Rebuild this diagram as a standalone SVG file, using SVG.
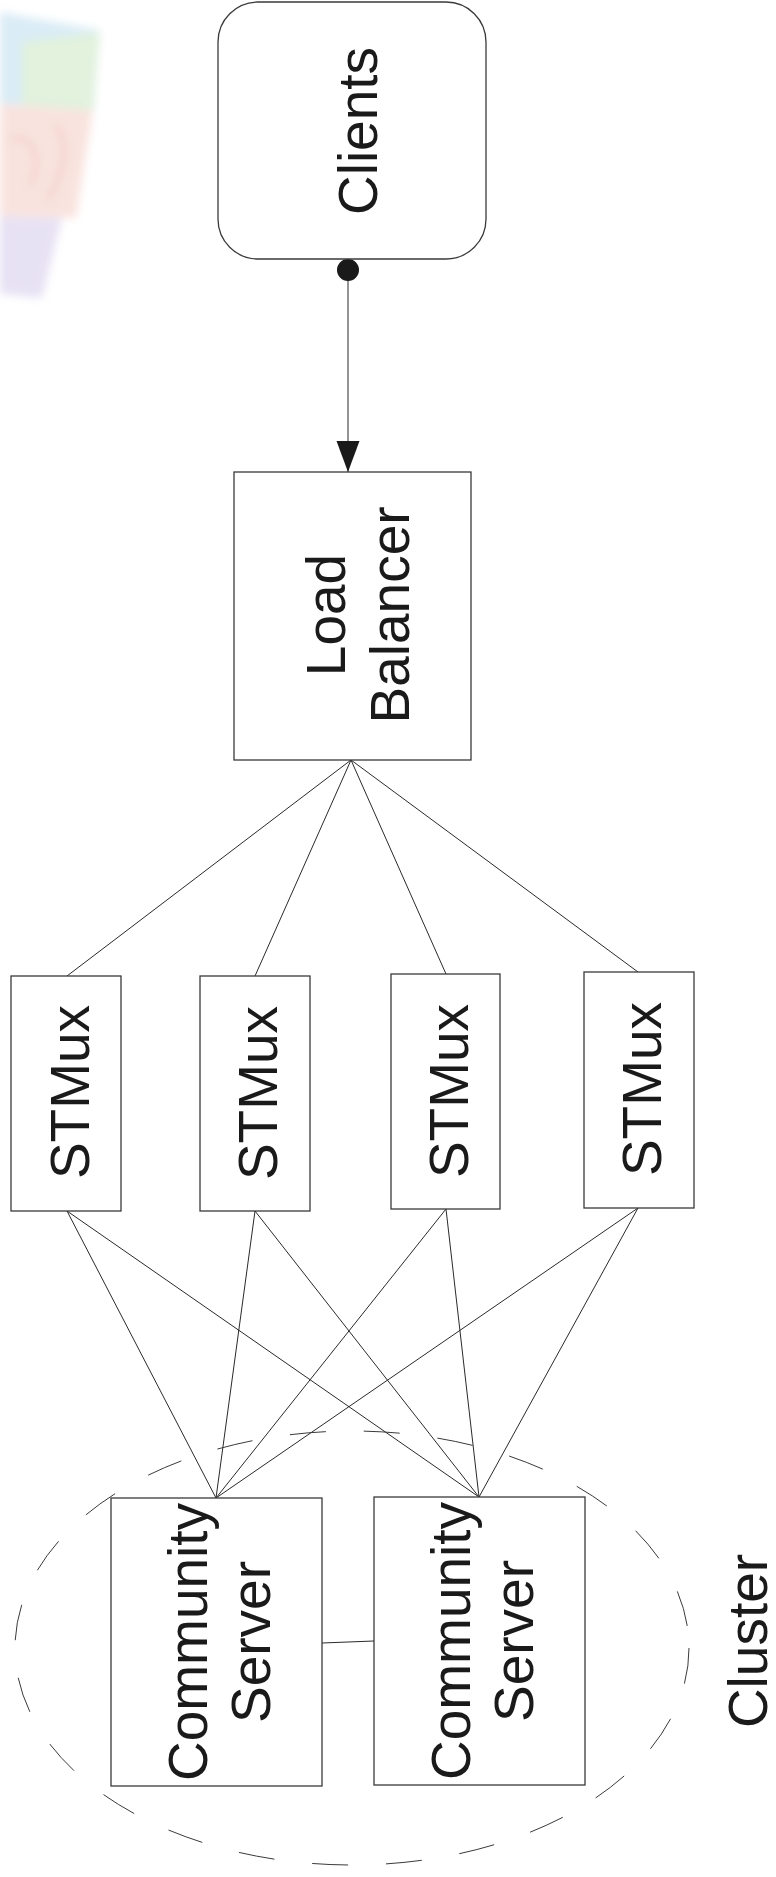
<svg xmlns="http://www.w3.org/2000/svg" width="776" height="1877" viewBox="0 0 776 1877">
<style>
.box{fill:#fff;stroke:#3a3a3a;stroke-width:1.3}
.lbl{font-family:"Liberation Sans",Arial,sans-serif;font-size:55px;fill:#1a1a1a;text-anchor:middle}
.con{stroke:#2a2a2a;stroke-width:1;fill:none}
</style>
<defs>
<marker id="dot" markerUnits="userSpaceOnUse" markerWidth="24" markerHeight="24" refX="12" refY="12" orient="auto"><circle cx="12" cy="12" r="11" fill="#1a1a1a"/></marker>
<marker id="arrow" markerUnits="userSpaceOnUse" markerWidth="32" markerHeight="24" refX="31" refY="11.5" orient="auto"><path d="M0,0 L31,11.5 L0,23 Z" fill="#1a1a1a"/></marker>
<filter id="blur" x="-20%" y="-20%" width="140%" height="140%"><feGaussianBlur stdDeviation="4"/></filter>
</defs>
<g id="bgimage" filter="url(#blur)" opacity="0.85">
<polygon points="0,12 100,30 94,110 0,104" fill="#d4e9f4"/>
<polygon points="22,42 100,32 93,110 22,108" fill="#ddf0d8"/>
<polygon points="0,104 93,110 76,218 0,216" fill="#f8dfd9"/>
<path d="M10,140 C30,130 45,160 30,185 M55,125 C72,145 62,175 48,200" stroke="#f2cbc4" stroke-width="5" fill="none"/>
<polygon points="0,216 62,218 42,298 0,294" fill="#e3ddf2"/>
</g>
<g id="connectors">
<line class="con" x1="348" y1="270" x2="348" y2="472" marker-start="url(#dot)" marker-end="url(#arrow)"/>
<line class="con" x1="351" y1="760" x2="67" y2="976"/>
<line class="con" x1="351" y1="760" x2="255" y2="976"/>
<line class="con" x1="351" y1="760" x2="446" y2="974"/>
<line class="con" x1="351" y1="760" x2="638" y2="972"/>
<line class="con" x1="67" y1="1211" x2="216" y2="1498"/>
<line class="con" x1="67" y1="1211" x2="479" y2="1497"/>
<line class="con" x1="255" y1="1211" x2="216" y2="1498"/>
<line class="con" x1="255" y1="1211" x2="479" y2="1497"/>
<line class="con" x1="446" y1="1209" x2="216" y2="1498"/>
<line class="con" x1="446" y1="1209" x2="479" y2="1497"/>
<line class="con" x1="638" y1="1208" x2="216" y2="1498"/>
<line class="con" x1="638" y1="1208" x2="479" y2="1497"/>
<line class="con" x1="322" y1="1643" x2="374" y2="1641"/>
</g>
<g id="cluster">
<ellipse cx="352" cy="1648" rx="337" ry="217" fill="none" stroke="#3a3a3a" stroke-width="1" stroke-dasharray="36 38"/>
<text class="lbl" transform="translate(767,1641) rotate(-90)">Cluster</text>
</g>
<g id="clients">
<rect class="box" x="218" y="2" width="268" height="257" rx="40" ry="40"/>
<text class="lbl" transform="translate(377,131) rotate(-90)">Clients</text>
</g>
<g id="loadbalancer">
<rect class="box" x="234" y="472" width="237" height="288"/>
<text class="lbl" transform="translate(345,615) rotate(-90)">Load</text>
<text class="lbl" transform="translate(409,615) rotate(-90)">Balancer</text>
</g>
<g id="stmux1">
<rect class="box" x="11" y="976" width="110" height="235"/>
<text class="lbl" transform="translate(89,1092) rotate(-90)">STMux</text>
</g>
<g id="stmux2">
<rect class="box" x="200" y="976" width="110" height="235"/>
<text class="lbl" transform="translate(277,1093) rotate(-90)">STMux</text>
</g>
<g id="stmux3">
<rect class="box" x="391" y="974" width="109" height="235"/>
<text class="lbl" transform="translate(468,1091) rotate(-90)">STMux</text>
</g>
<g id="stmux4">
<rect class="box" x="584" y="972" width="110" height="236"/>
<text class="lbl" transform="translate(661,1089) rotate(-90)">STMux</text>
</g>
<g id="cs1">
<rect class="box" x="111" y="1498" width="211" height="288"/>
<text class="lbl" transform="translate(207,1642) rotate(-90)">Community</text>
<text class="lbl" transform="translate(270,1642) rotate(-90)">Server</text>
</g>
<g id="cs2">
<rect class="box" x="374" y="1497" width="211" height="288"/>
<text class="lbl" transform="translate(470,1641) rotate(-90)">Community</text>
<text class="lbl" transform="translate(533,1641) rotate(-90)">Server</text>
</g>
</svg>
